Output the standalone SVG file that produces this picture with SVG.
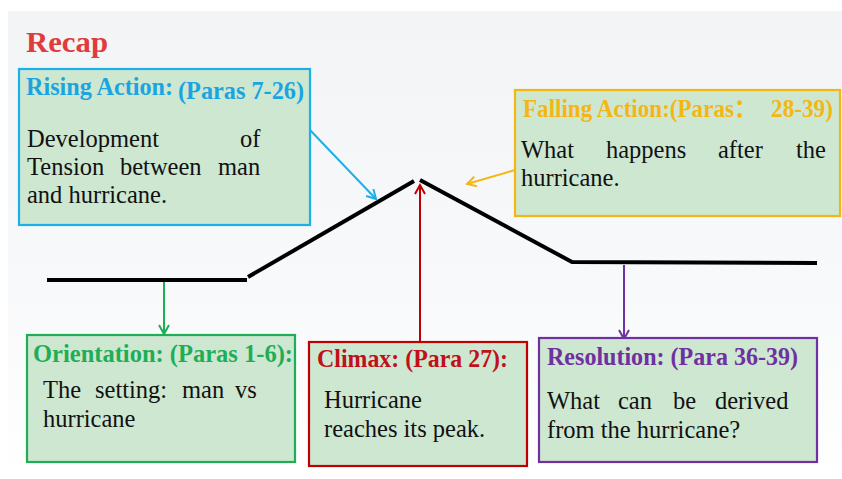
<svg xmlns="http://www.w3.org/2000/svg" width="842" height="479" viewBox="0 0 842 479">
<style>
.box{fill:#cde7d1;stroke-width:2.2}
.t{font-family:"Liberation Serif","Noto Sans CJK SC",serif;font-weight:bold;font-size:25px}
.b{font-family:"Liberation Serif",serif;font-size:24.5px;fill:#111}
.plot{fill:none;stroke:#000;stroke-width:4}
.arr{fill:none;stroke-width:2}
</style>
<defs>
<linearGradient id="bg" x1="0" y1="0" x2="0" y2="1">
<stop offset="0" stop-color="#f3f4f6"/>
<stop offset="0.6" stop-color="#f8f9fa"/>
<stop offset="1" stop-color="#ffffff"/>
</linearGradient>
<marker id="mBlue" markerWidth="12" markerHeight="12" refX="10" refY="6" orient="auto" markerUnits="userSpaceOnUse"><path d="M1,1 L10,6 L1,11" fill="none" stroke="#1cb0e8" stroke-width="2"/></marker>
<marker id="mGold" markerWidth="12" markerHeight="12" refX="10" refY="6" orient="auto" markerUnits="userSpaceOnUse"><path d="M1,1 L10,6 L1,11" fill="none" stroke="#f5b614" stroke-width="2"/></marker>
<marker id="mRed" markerWidth="12" markerHeight="12" refX="10" refY="6" orient="auto" markerUnits="userSpaceOnUse"><path d="M1,1 L10,6 L1,11" fill="none" stroke="#c00000" stroke-width="2"/></marker>
<marker id="mGreen" markerWidth="12" markerHeight="12" refX="10" refY="6" orient="auto" markerUnits="userSpaceOnUse"><path d="M1,1 L10,6 L1,11" fill="none" stroke="#1fae56" stroke-width="2"/></marker>
<marker id="mPurple" markerWidth="12" markerHeight="12" refX="10" refY="6" orient="auto" markerUnits="userSpaceOnUse"><path d="M1,1 L10,6 L1,11" fill="none" stroke="#7030a0" stroke-width="2"/></marker>
</defs>
<rect width="842" height="479" fill="#ffffff"/>
<rect x="8" y="11" width="834" height="468" fill="url(#bg)"/>
<text x="26" y="52" font-family="Liberation Serif, serif" font-weight="bold" font-size="29" fill="#e03c3c" textLength="82" lengthAdjust="spacingAndGlyphs">Recap</text>

<g id="plotline">
<polyline class="plot" points="47,280 247,280"/>
<polyline class="plot" points="248,277 414,181"/>
<polyline class="plot" points="420,180 572,262 817,263"/>
</g>

<g id="connectors">
<line class="arr" x1="310" y1="130" x2="376" y2="199" stroke="#1cb0e8" marker-end="url(#mBlue)"/>
<line class="arr" x1="515" y1="170" x2="467" y2="184" stroke="#f5b614" marker-end="url(#mGold)"/>
<line class="arr" x1="420" y1="342" x2="420" y2="185" stroke="#c00000" marker-end="url(#mRed)"/>
<line class="arr" x1="164" y1="282" x2="164" y2="334" stroke="#1fae56" marker-end="url(#mGreen)"/>
<line class="arr" x1="624" y1="265" x2="624" y2="339" stroke="#7030a0" marker-end="url(#mPurple)"/>
</g>

<g id="rising">
<rect class="box" x="19" y="69" width="291" height="156" stroke="#1cb0e8"/>
<text class="t" x="26" y="95" fill="#1aa5e2" textLength="147" lengthAdjust="spacingAndGlyphs">Rising Action:</text>
<text class="t" x="178" y="99" fill="#1aa5e2" textLength="126" lengthAdjust="spacingAndGlyphs">(Paras 7-26)</text>
<text class="b" y="147"><tspan x="27">Development</tspan><tspan x="240">of</tspan></text>
<text class="b" y="175"><tspan x="27">Tension</tspan><tspan x="120">between</tspan><tspan x="218">man</tspan></text>
<text class="b" x="27" y="203">and hurricane.</text>
</g>

<g id="falling">
<rect class="box" x="515" y="90" width="325" height="126" stroke="#f5b614"/>
<text class="t" x="523" y="117" fill="#f5b614" font-size="23" textLength="234" lengthAdjust="spacingAndGlyphs">Falling Action:(Paras：</text>
<text class="t" x="771" y="117" fill="#f5b614" font-size="23" textLength="62" lengthAdjust="spacingAndGlyphs">28-39)</text>
<text class="b" y="158"><tspan x="521">What</tspan><tspan x="606">happens</tspan><tspan x="718">after</tspan><tspan x="796">the</tspan></text>
<text class="b" x="521" y="186">hurricane.</text>
</g>

<g id="orientation">
<rect class="box" x="27" y="335" width="268" height="127" stroke="#1fae56"/>
<text class="t" x="33" y="362" fill="#1fae56" textLength="260" lengthAdjust="spacingAndGlyphs">Orientation: (Paras 1-6):</text>
<text class="b" y="398"><tspan x="43">The</tspan><tspan x="95">setting:</tspan><tspan x="182">man</tspan><tspan x="235">vs</tspan></text>
<text class="b" x="43" y="427">hurricane</text>
</g>

<g id="climax">
<rect class="box" x="309" y="342" width="218" height="124" stroke="#c00000" stroke-width="3"/>
<text class="t" x="317" y="367" fill="#c0101a" textLength="191" lengthAdjust="spacingAndGlyphs">Climax: (Para 27):</text>
<text class="b" x="324" y="408">Hurricane</text>
<text class="b" x="324" y="437">reaches its peak.</text>
</g>

<g id="resolution">
<rect class="box" x="539" y="338" width="278" height="124" stroke="#7030a0" stroke-width="2.5"/>
<text class="t" x="547" y="365" fill="#7030a0" textLength="251" lengthAdjust="spacingAndGlyphs">Resolution: (Para 36-39)</text>
<text class="b" y="409"><tspan x="547">What</tspan><tspan x="618">can</tspan><tspan x="673">be</tspan><tspan x="715">derived</tspan></text>
<text class="b" x="547" y="438">from the hurricane?</text>
</g>
</svg>
